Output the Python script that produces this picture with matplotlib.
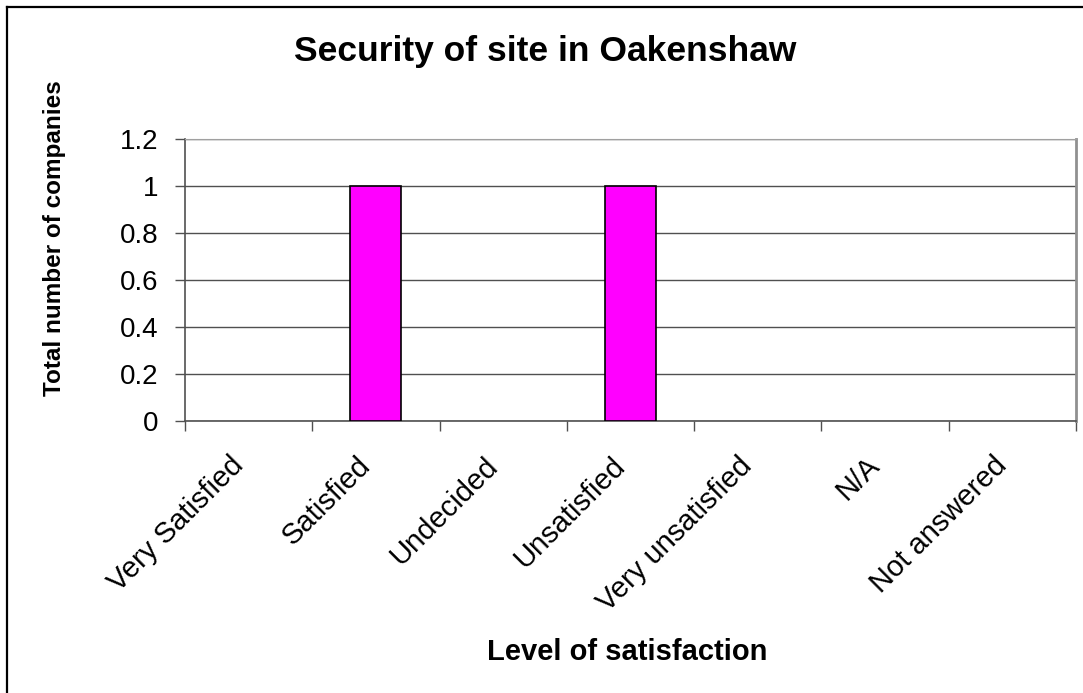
import matplotlib
matplotlib.use("Agg")
import matplotlib.pyplot as plt
from matplotlib.lines import Line2D

plt.rcParams['font.family'] = ['Liberation Sans', 'DejaVu Sans']

# data
categories = ['Very Satisfied', 'Satisfied', 'Undecided', 'Unsatisfied',
              'Very unsatisfied', 'N/A', 'Not answered']
counts = [0, 1, 0, 1, 0, 0, 0]
y_ticks = [0, 0.2, 0.4, 0.6, 0.8, 1, 1.2]
y_tick_labels = ['0', '0.2', '0.4', '0.6', '0.8', '1', '1.2']

W, H = 1083, 693
fig = plt.figure(figsize=(W / 100, H / 100), dpi=100)
ax = fig.add_axes([185 / W, 1 - 421 / H, (1076 - 185) / W, (421 - 139) / H])

x = list(range(len(categories)))
# Excel draws no outline for zero-height bars
edge_lw = [1.2 if v else 0 for v in counts]
ax.bar(x, counts, width=0.4, color='#FF00FF', edgecolor='black',
       linewidth=edge_lw, zorder=3)

ax.set_xlim(-0.5, len(categories) - 0.5)
ax.set_ylim(0, 1.2)
ax.set_yticks(y_ticks)
ax.set_yticklabels(y_tick_labels, fontsize=20)
ax.yaxis.grid(True, color='#505050', linewidth=1, zorder=0)

# ticks at category boundaries, labels at category centres
ax.set_xticks([i - 0.5 for i in range(len(categories) + 1)])
ax.set_xticklabels([])
ax.set_xticks(x, minor=True)
ax.set_xticklabels(categories, minor=True, rotation=45, ha='right',
                   fontsize=21)
ax.tick_params(axis='x', which='major', length=7, width=1, color='#505050',
               direction='out')
ax.tick_params(axis='x', which='minor', length=0, pad=22)
ax.tick_params(axis='y', length=7, width=1, color='#505050', pad=12)

for side in ('left', 'bottom'):
    ax.spines[side].set_color('#505050')
    ax.spines[side].set_linewidth(1.2)
ax.spines['top'].set_color('#a0a0a0')
ax.spines['right'].set_color('#909090')
ax.spines['right'].set_linewidth(2)
ax.set_axisbelow(True)

fig.text(545 / W, 1 - 51 / H, 'Security of site in Oakenshaw',
         ha='center', va='center', fontsize=25.5, fontweight='bold')
fig.text(55 / W, 1 - 238 / H, 'Total number of companies', rotation=90,
         ha='center', va='center', fontsize=17.5, fontweight='bold')
fig.text(627 / W, 1 - 652 / H, 'Level of satisfaction',
         ha='center', va='center', fontsize=21, fontweight='bold')

# outer chart border (only left and top remain in the crop)
fig.add_artist(Line2D([7 / W, 7 / W], [0, 1 - 7 / H], color='black',
                      linewidth=1.6, transform=fig.transFigure))
fig.add_artist(Line2D([7 / W, 1], [1 - 7 / H, 1 - 7 / H], color='black',
                      linewidth=1.6, transform=fig.transFigure))

fig.savefig('out.png', dpi=100)
